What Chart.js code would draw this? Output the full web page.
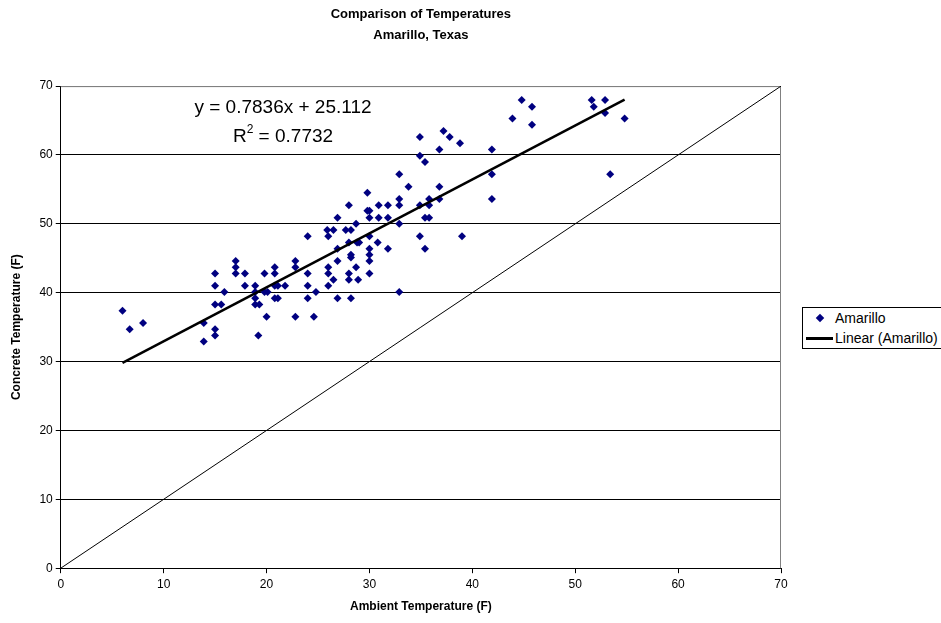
<!DOCTYPE html>
<html>
<head>
<meta charset="utf-8">
<script src="https://cdn.jsdelivr.net/npm/chart.js@4.4.1/dist/chart.umd.min.js"></script>
<style>
    html, body { margin: 0; padding: 0; background: #fff; }
    #wrap { position: relative; width: 941px; height: 623px; }
    #legenda {
        position: absolute; left: 802px; top: 307px; width: 145px; height: 42px;
        border: 1px solid #000; box-sizing: border-box; background: #fff;
        font: 14px "Liberation Sans", Arial, sans-serif; color: #000;
    }
    #legenda .item { position: relative; height: 20px; line-height: 20px; padding-left: 32px; white-space: nowrap; }
    #legenda .diamond {
        position: absolute; left: 14px; top: 7px; width: 6px; height: 6px;
        background: #000080; transform: rotate(45deg);
    }
    #legenda .linha { position: absolute; left: 3px; top: 9px; width: 27px; height: 2.5px; background: #000; }
</style>
</head>
<body>
<div id="wrap">
    <canvas id="temperaturas" width="941" height="623"></canvas>
    <div id="legenda">
        <div class="item"><span class="diamond"></span>Amarillo</div>
        <div class="item"><span class="linha"></span>Linear (Amarillo)</div>
    </div>
</div>
<script>
// Ambient vs concrete temperature readings (F)
const ambient = [
    6.0, 6.7, 8.0, 13.9, 13.9, 15.0, 15.0, 15.0, 15.6, 15.0, 15.0, 15.9,
    17.0, 17.0, 17.0, 17.9, 17.9, 18.9, 18.9, 18.9, 18.9, 19.3, 19.8, 19.8,
    20.1, 20.0, 19.2, 20.8, 20.8, 20.8, 21.1, 20.8, 21.1, 21.8,
    34.9, 35.4, 36.8, 38.8, 32.9, 33.8, 36.8, 29.8, 28.0, 29.8, 30.0, 30.9,
    31.8, 32.9, 32.9, 34.9, 35.8, 35.8, 36.8, 30.0, 30.9, 31.8, 26.9, 32.9,
    35.4, 35.8, 28.7, 25.9, 26.5, 27.7, 28.2, 26.0, 24.0, 28.0, 28.8, 29.0,
    30.0, 30.8, 31.8, 34.9, 35.4, 39.0, 30.0, 26.9, 28.2, 28.2, 30.0, 30.0,
    26.9, 28.7, 26.0, 26.0, 24.0, 28.0, 28.0, 30.0, 28.9, 26.5, 26.0, 22.8,
    22.8, 24.0, 24.8, 24.0, 26.9, 28.2, 32.9, 22.8, 24.6,
    44.8, 45.8, 43.9, 45.8, 51.6, 51.8, 52.9, 52.9, 54.8, 53.4, 41.9, 41.9,
    41.9, 34.9, 37.2, 37.8
];
const concrete = [
    37.4, 34.7, 35.6, 35.6, 32.9, 34.7, 33.8, 38.3, 38.3, 41.0, 42.8, 40.1,
    44.6, 43.7, 42.8, 42.8, 41.0, 41.0, 40.1, 39.2, 38.3, 38.3, 42.8, 40.1,
    40.1, 36.5, 33.8, 43.7, 42.8, 41.0, 41.0, 39.2, 39.2, 41.0,
    59.9, 59.0, 60.8, 61.7, 57.2, 55.4, 55.4, 54.5, 52.7, 51.9, 51.9, 52.7,
    52.7, 53.6, 52.7, 52.7, 53.6, 52.7, 53.6, 50.9, 50.9, 50.9, 50.9, 50.0,
    50.9, 50.9, 50.0, 49.1, 49.1, 49.1, 49.1, 48.2, 48.2, 47.3, 47.3, 47.3,
    48.2, 47.3, 46.4, 48.2, 46.4, 48.2, 46.4, 46.4, 45.5, 45.1, 45.5, 44.6,
    44.6, 43.7, 43.7, 42.8, 42.8, 42.8, 41.9, 42.8, 41.9, 41.9, 41.0, 44.6,
    43.7, 41.0, 40.1, 39.2, 39.2, 39.2, 40.1, 36.5, 36.5,
    68.0, 67.0, 65.3, 64.4, 68.0, 67.0, 68.0, 66.1, 65.3, 57.2, 60.8, 57.2,
    53.6, 62.6, 63.5, 62.6
];
const axisTicks = [0, 10, 20, 30, 40, 50, 60, 70];
const equalityLine = [0, 70];
const slope = 0.7836;
const intercept = 25.112;
const rSquared = 0.7732;

document.addEventListener('DOMContentLoaded', function(){
    montarGrafico();
});

// equação da tendência + moldura cinza da área do gráfico
const equacaoPlugin = {
    id: 'equacao',
    afterDatasetsDraw(chart) {
        const ctx = chart.ctx;
        const sx = chart.scales.x, sy = chart.scales.y;
        const cx = sx.getPixelForValue(21.6);
        ctx.save();
        ctx.fillStyle = '#000';
        ctx.textBaseline = 'middle';
        ctx.font = '19px "Liberation Sans", Arial, sans-serif';
        ctx.textAlign = 'center';
        ctx.fillText('y = ' + slope + 'x + ' + intercept, cx, sy.getPixelForValue(66.8));

        const y2 = sy.getPixelForValue(62.7);
        const a = 'R', b = '2', c = ' = ' + rSquared;
        const wa = ctx.measureText(a).width, wc = ctx.measureText(c).width;
        ctx.font = '12px "Liberation Sans", Arial, sans-serif';
        const wb = ctx.measureText(b).width;
        let x0 = cx - (wa + wb + wc) / 2;
        ctx.textAlign = 'left';
        ctx.font = '19px "Liberation Sans", Arial, sans-serif';
        ctx.fillText(a, x0, y2);
        ctx.font = '12px "Liberation Sans", Arial, sans-serif';
        ctx.fillText(b, x0 + wa, y2 - 7);
        ctx.font = '19px "Liberation Sans", Arial, sans-serif';
        ctx.fillText(c, x0 + wa + wb, y2);
        ctx.restore();
    },
    beforeDatasetsDraw(chart) {
        const a = chart.chartArea, ctx = chart.ctx;
        ctx.save();
        ctx.strokeStyle = '#808080';
        ctx.lineWidth = 1;
        ctx.beginPath();
        ctx.moveTo(a.left, a.top + 0.5);
        ctx.lineTo(a.right - 0.5, a.top + 0.5);
        ctx.lineTo(a.right - 0.5, a.bottom);
        ctx.stroke();
        ctx.restore();
    }
};

function montarGrafico() {
    const pontos = ambient.map((v, i) => ({ x: v, y: concrete[i] }));
    const xMin = Math.min(...ambient), xMax = Math.max(...ambient);
    const tendencia = [xMin, xMax].map(v => ({ x: v, y: slope * v + intercept }));
    const diagonal = equalityLine.map(v => ({ x: v, y: v }));

    const fonte = '"Liberation Sans", Arial, sans-serif';
    const ctx = document.getElementById('temperaturas');
    new Chart(ctx, {
        type: 'scatter',
        data: {
            datasets: [
                {
                    label: 'Linear (Amarillo)',
                    data: tendencia,
                    showLine: true,
                    borderColor: '#000',
                    borderWidth: 2.5,
                    pointRadius: 0,
                    order: 0
                },
                {
                    label: 'y = x',
                    data: diagonal,
                    showLine: true,
                    borderColor: '#000',
                    borderWidth: 1,
                    pointRadius: 0,
                    order: 1
                },
                {
                    label: 'Amarillo',
                    data: pontos,
                    pointStyle: 'rectRot',
                    pointRadius: 4,
                    pointBorderWidth: 0,
                    backgroundColor: '#000080',
                    borderColor: '#000080',
                    order: 2
                }
            ]
        },
        options: {
            responsive: false,
            animation: false,
            layout: { padding: { left: 4, right: 160, top: 0, bottom: 4 } },
            plugins: {
                legend: { display: false },
                tooltip: { enabled: false },
                title: {
                    display: true,
                    fullSize: false,
                    text: ['Comparison of Temperatures', 'Amarillo, Texas'],
                    color: '#000',
                    font: { family: fonte, size: 13, weight: 'bold', lineHeight: 1.62 },
                    padding: { top: 4, bottom: 40 }
                }
            },
            scales: {
                x: {
                    type: 'linear',
                    min: 0,
                    max: 70,
                    afterBuildTicks: s => { s.ticks = axisTicks.map(v => ({ value: v })); },
                    grid: { drawOnChartArea: false, drawTicks: true, tickLength: 5, color: '#000' },
                    border: { color: '#000', width: 1 },
                    ticks: { color: '#000', padding: 4, font: { family: fonte, size: 12 }, maxRotation: 0 },
                    title: {
                        display: true,
                        text: 'Ambient Temperature (F)',
                        color: '#000',
                        font: { family: fonte, size: 12, weight: 'bold' },
                        padding: { top: 4, bottom: 5 }
                    }
                },
                y: {
                    type: 'linear',
                    min: 0,
                    max: 70,
                    afterBuildTicks: s => { s.ticks = axisTicks.map(v => ({ value: v })); },
                    grid: {
                        color: c => (c.tick && c.tick.value === 70 ? '#808080' : '#000'),
                        tickColor: '#000',
                        tickLength: 5,
                        lineWidth: 1
                    },
                    border: { color: '#000', width: 1 },
                    ticks: { color: '#000', padding: 3, font: { family: fonte, size: 12 } },
                    title: {
                        display: true,
                        text: 'Concrete Temperature (F)',
                        color: '#000',
                        font: { family: fonte, size: 12, weight: 'bold' },
                        padding: { top: 5, bottom: 13 }
                    }
                }
            }
        },
        plugins: [equacaoPlugin]
    });
}
</script>
</body>
</html>
